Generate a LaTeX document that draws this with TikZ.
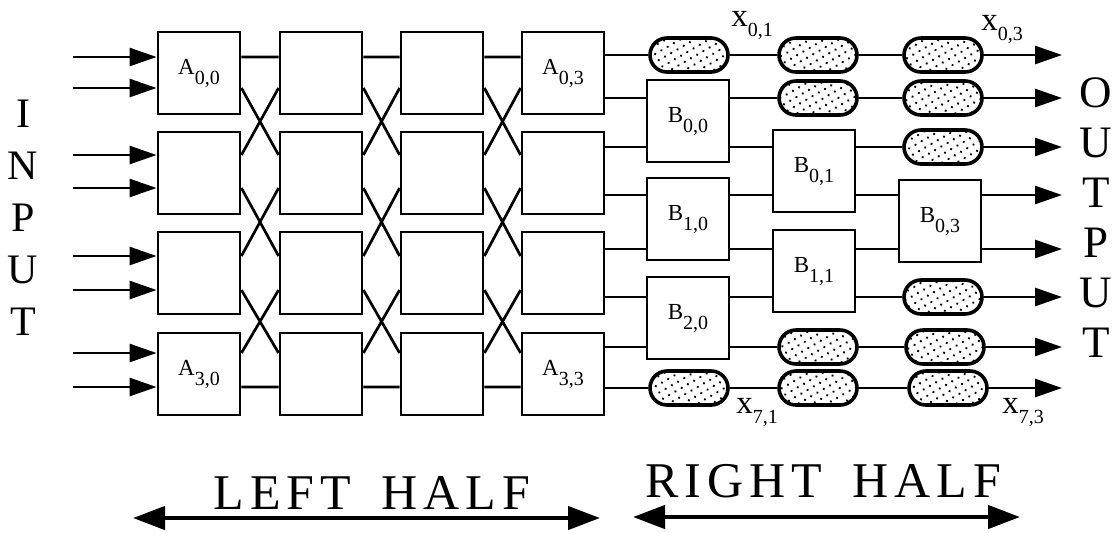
\documentclass[tikz,border=0pt]{standalone}
\usepackage{fontspec}
\setmainfont{Liberation Serif}
\newfontfamily\spacedfont[LetterSpace=12]{Liberation Serif}
\usetikzlibrary{arrows.meta,patterns.meta}

\newcommand{\sublbl}[2]{#1\raisebox{-5pt}{\fontsize{10}{10}\selectfont #2}}

\tikzset{
  box/.style={draw, line width=1.4pt, minimum width=41pt, minimum height=41pt, inner sep=0pt, font=\fontsize{11.5}{12}\selectfont},
  pill/.style={draw, line width=1.8pt, minimum width=39pt, minimum height=17pt, rounded corners=8.5pt, inner sep=0pt, pattern={Dots[distance=3.6pt,radius=0.65pt,angle=30]}},
  wire/.style={line width=1.35pt},
  arr/.style={wire, -{Triangle[length=13.5pt,width=9pt]}},
  halfarrow/.style={line width=2.2pt, {Triangle[length=16pt,width=11.5pt]}-{Triangle[length=16pt,width=11.5pt]}},
  letters/.style={align=center, inner sep=0pt},
  xlbl/.style={font=\fontsize{16.5}{17}\selectfont, inner sep=0pt}
}

\begin{document}
\begin{tikzpicture}[x=0.5pt,y=-0.5pt]
        \useasboundingbox (0,0) rectangle (1112,532);

        \node[box] (A00) at (199,73) {\sublbl{A}{0,0}};
        \node[box] (A10) at (199,173) {};
        \node[box] (A20) at (199,273) {};
        \node[box] (A30) at (199,374) {\sublbl{A}{3,0}};
        \node[box] (A01) at (321,73) {};
        \node[box] (A11) at (321,173) {};
        \node[box] (A21) at (321,273) {};
        \node[box] (A31) at (321,374) {};
        \node[box] (A02) at (442,73) {};
        \node[box] (A12) at (442,173) {};
        \node[box] (A22) at (442,273) {};
        \node[box] (A32) at (442,374) {};
        \node[box] (A03) at (563,73) {\sublbl{A}{0,3}};
        \node[box] (A13) at (563,173) {};
        \node[box] (A23) at (563,273) {};
        \node[box] (A33) at (563,374) {\sublbl{A}{3,3}};

        \node[box] (B00) at (688,121) {\sublbl{B}{0,0}};
        \node[box] (B10) at (688,219) {\sublbl{B}{1,0}};
        \node[box] (B20) at (688,318) {\sublbl{B}{2,0}};
        \node[box] (B01) at (814,171) {\sublbl{B}{0,1}};
        \node[box] (B11) at (814,271) {\sublbl{B}{1,1}};
        \node[box] (B03) at (940,221) {\sublbl{B}{0,3}};

        \node[pill] (p01) at (689,55) {};
        \node[pill] (p71) at (689,388) {};
        \node[pill] (p02) at (818,55) {};
        \node[pill] (p12) at (818,98) {};
        \node[pill] (p62) at (818,347) {};
        \node[pill] (p72) at (818,388) {};
        \node[pill] (p03) at (943,55) {};
        \node[pill] (p13) at (943,98) {};
        \node[pill] (p23) at (943,147) {};
        \node[pill] (p53) at (943,297) {};
        \node[pill] (p63) at (945,347) {};
        \node[pill] (p73) at (948,388) {};

        \coordinate (in0) at (73,57);
        \coordinate (in1) at (73,88);
        \coordinate (in2) at (73,155);
        \coordinate (in3) at (73,188);
        \coordinate (in4) at (73,256);
        \coordinate (in5) at (73,290);
        \coordinate (in6) at (73,353);
        \coordinate (in7) at (73,387);

        \coordinate (o0) at (1062,55);
        \coordinate (o1) at (1062,98);
        \coordinate (o2) at (1062,147);
        \coordinate (o3) at (1062,195);
        \coordinate (o4) at (1062,249);
        \coordinate (o5) at (1062,297);
        \coordinate (o6) at (1062,347);
        \coordinate (o7) at (1062,388);

        \draw[arr] (in0) -- (A00.west |- in0);
        \draw[arr] (in1) -- (A00.west |- in1);
        \draw[arr] (in2) -- (A10.west |- in2);
        \draw[arr] (in3) -- (A10.west |- in3);
        \draw[arr] (in4) -- (A20.west |- in4);
        \draw[arr] (in5) -- (A20.west |- in5);
        \draw[arr] (in6) -- (A30.west |- in6);
        \draw[arr] (in7) -- (A30.west |- in7);

        \draw[wire] (A00.east |- in0) -- (A01.west |- in0)
          (A00.east |- in1) -- (A11.west |- in2) (A10.east |- in2) -- (A01.west |- in1)
          (A10.east |- in3) -- (A21.west |- in4) (A20.east |- in4) -- (A11.west |- in3)
          (A20.east |- in5) -- (A31.west |- in6) (A30.east |- in6) -- (A21.west |- in5)
          (A30.east |- in7) -- (A31.west |- in7);
        \draw[wire] (A01.east |- in0) -- (A02.west |- in0)
          (A01.east |- in1) -- (A12.west |- in2) (A11.east |- in2) -- (A02.west |- in1)
          (A11.east |- in3) -- (A22.west |- in4) (A21.east |- in4) -- (A12.west |- in3)
          (A21.east |- in5) -- (A32.west |- in6) (A31.east |- in6) -- (A22.west |- in5)
          (A31.east |- in7) -- (A32.west |- in7);
        \draw[wire] (A02.east |- in0) -- (A03.west |- in0)
          (A02.east |- in1) -- (A13.west |- in2) (A12.east |- in2) -- (A03.west |- in1)
          (A12.east |- in3) -- (A23.west |- in4) (A22.east |- in4) -- (A13.west |- in3)
          (A22.east |- in5) -- (A33.west |- in6) (A32.east |- in6) -- (A23.west |- in5)
          (A32.east |- in7) -- (A33.west |- in7);

        \draw[arr] (A03.east |- o0) -- (p01) -- (p02) -- (p03) -- (o0);
        \draw[arr] (A03.east |- o1) -- (B00.west |- o1) (B00.east |- o1) -- (p12) -- (p13) -- (o1);
        \draw[arr] (A13.east |- o2) -- (B00.west |- o2) (B00.east |- o2) -- (B01.west |- o2) (B01.east |- o2) -- (p23) -- (o2);
        \draw[arr] (A13.east |- o3) -- (B10.west |- o3) (B10.east |- o3) -- (B01.west |- o3) (B01.east |- o3) -- (B03.west |- o3) (B03.east |- o3) -- (o3);
        \draw[arr] (A23.east |- o4) -- (B10.west |- o4) (B10.east |- o4) -- (B11.west |- o4) (B11.east |- o4) -- (B03.west |- o4) (B03.east |- o4) -- (o4);
        \draw[arr] (A23.east |- o5) -- (B20.west |- o5) (B20.east |- o5) -- (B11.west |- o5) (B11.east |- o5) -- (p53) -- (o5);
        \draw[arr] (A33.east |- o6) -- (B20.west |- o6) (B20.east |- o6) -- (p62) -- (p63) -- (o6);
        \draw[arr] (A33.east |- o7) -- (p71) -- (p72) -- (p73) -- (o7);

        \node[xlbl] (x01) at (752,25) {\sublbl{x}{0,1}};
        \node[xlbl] (x03) at (1002,29) {\sublbl{x}{0,3}};
        \node[xlbl] (x71) at (757,412) {\sublbl{x}{7,1}};
        \node[xlbl] (x73) at (1023,412) {\sublbl{x}{7,3}};

        \node[letters, font=\fontsize{21}{26}\selectfont] (input) at (23,218) {I\\N\\P\\U\\T};
        \node[letters, font=\fontsize{22.5}{25}\selectfont] (output) at (1096,218) {O\\U\\T\\P\\U\\T};

        \node[font=\spacedfont\fontsize{25}{25}\selectfont] (lefthalf) at (372,493) {LEFT\hspace{6pt} HALF};
        \node[font=\spacedfont\fontsize{25}{25}\selectfont] (righthalf) at (823,481) {RIGHT\hspace{6pt} HALF};
        \coordinate (l1) at (133,518);
        \coordinate (l2) at (600,518);
        \coordinate (r1) at (633,517);
        \coordinate (r2) at (1020,517);
        \draw[halfarrow] (l1) -- (l2);
        \draw[halfarrow] (r1) -- (r2);
      \end{tikzpicture}
\end{document}
